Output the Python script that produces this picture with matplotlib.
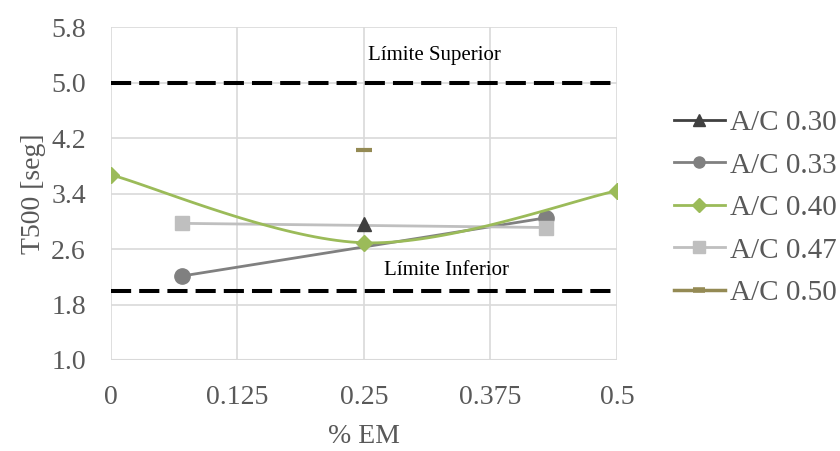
import numpy as np
import matplotlib.pyplot as plt

plt.rcParams['font.family'] = ['Liberation Serif', 'DejaVu Serif']

# series data (x = % EM, y = T500 [seg])
x_030 = [0.25]
y_030 = [2.96]
x_033 = [0.07, 0.43]
y_033 = [2.21, 3.05]
x_040 = [0.0, 0.25, 0.5]
y_040 = [3.67, 2.69, 3.44]
x_047 = [0.07, 0.43]
y_047 = [2.97, 2.91]
x_050 = [0.25]
y_050 = [4.03]

lim_sup = 5.0
lim_inf = 2.0

x_ticks = [0, 0.125, 0.25, 0.375, 0.5]
x_tick_labels = ['0', '0.125', '0.25', '0.375', '0.5']
y_ticks = [1.0, 1.8, 2.6, 3.4, 4.2, 5.0, 5.8]


def smooth(xs, ys, n=40):
    # excel-like smoothed line through the points (cardinal bezier)
    xs = np.asarray(xs, float)
    ys = np.asarray(ys, float)
    px, py = [], []
    t = np.linspace(0, 1, n)
    k = 1 / 6
    for i in range(len(xs) - 1):
        i0 = max(i - 1, 0)
        i3 = min(i + 2, len(xs) - 1)
        p0 = np.array([xs[i], ys[i]])
        p3 = np.array([xs[i + 1], ys[i + 1]])
        p1 = p0 + k * (p3 - np.array([xs[i0], ys[i0]]))
        p2 = p3 - k * (np.array([xs[i3], ys[i3]]) - p0)
        seg = ((1 - t) ** 3)[:, None] * p0 + (3 * (1 - t) ** 2 * t)[:, None] * p1 \
            + (3 * (1 - t) * t ** 2)[:, None] * p2 + (t ** 3)[:, None] * p3
        px.extend(seg[:, 0])
        py.extend(seg[:, 1])
    return px, py


fig = plt.figure(figsize=(8.4, 4.51), dpi=100)
ax = fig.add_axes([0.132, 0.2018, 0.6025, 0.7382])

tick_col = '#595959'
grid_col = '#d9d9d9'

ax.plot([0, 0.5], [lim_sup, lim_sup], color='black', lw=2.9, ls=(0, (5, 2)), zorder=2)
ax.plot([0, 0.5], [lim_inf, lim_inf], color='black', lw=2.9, ls=(0, (5, 2)), zorder=2)
ax.text(0.32, 5.39, 'Límite Superior', fontsize=15, ha='center', va='center')
ax.text(0.332, 2.29, 'Límite Inferior', fontsize=15, ha='center', va='center')

ax.plot(x_033, y_033, color='#808080', lw=2, marker='o', ms=11, zorder=3)
ax.plot(x_047, y_047, color='#bfbfbf', lw=2, marker='s', ms=10, zorder=3)
sx, sy = smooth(x_040, y_040)
ax.plot(sx, sy, color='#9bbb59', lw=2, zorder=3)
ax.plot(x_040, y_040, color='#9bbb59', lw=0, marker='D', ms=8, zorder=4)
ax.plot(x_030, y_030, color='#404040', lw=2, marker='^', ms=10, zorder=4)
ax.plot(x_050, y_050, color='#948a54', lw=2, marker='_', ms=12, mew=3, zorder=4)

ax.set_xlim(0, 0.5)
ax.set_ylim(1.0, 5.8)
ax.set_xticks(x_ticks)
ax.set_xticklabels(x_tick_labels)
ax.set_yticks(y_ticks)
ax.set_yticklabels([f'{v:.1f}' for v in y_ticks])
ax.tick_params(length=0, labelsize=20, labelcolor=tick_col, pad=18)
ax.grid(True, color=grid_col, lw=1.2)
ax.set_axisbelow(True)
for s in ax.spines.values():
    s.set_visible(False)
ax.axhline(1.0, color=grid_col, lw=1.5, zorder=1)

ax.set_xlabel('% EM', fontsize=20, color=tick_col, labelpad=10)
ax.set_ylabel('T500 [seg]', fontsize=20, color=tick_col, labelpad=4)

# legend
handles = [
    plt.Line2D([], [], color='#404040', lw=2, marker='^', ms=8),
    plt.Line2D([], [], color='#808080', lw=2, marker='o', ms=8),
    plt.Line2D([], [], color='#9bbb59', lw=2, marker='D', ms=7),
    plt.Line2D([], [], color='#bfbfbf', lw=2, marker='s', ms=8),
    plt.Line2D([], [], color='#948a54', lw=2.5, marker='_', ms=8, mew=4),
]
labels = ['A/C 0.30', 'A/C 0.33', 'A/C 0.40', 'A/C 0.47', 'A/C 0.50']
leg = fig.legend(handles, labels, loc='center left', bbox_to_anchor=(0.788, 0.539),
                 frameon=False, fontsize=21, handlelength=1.75, handletextpad=0.2,
                 labelspacing=0.55, borderaxespad=0)
for t in leg.get_texts():
    t.set_color(tick_col)

fig.savefig('out.png', dpi=100)
